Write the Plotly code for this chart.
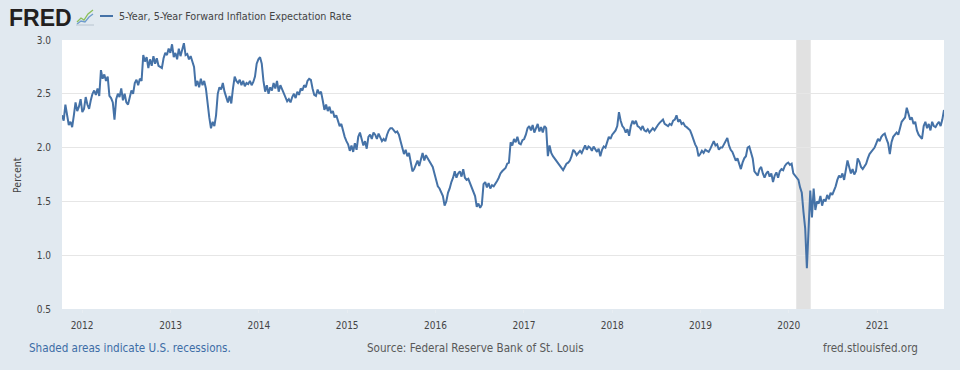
import plotly.graph_objects as go
import pandas as pd

# ---------------- data ----------------
series_name = "5-Year, 5-Year Forward Inflation Expectation Rate"
first_date = "2011-10-10"          # first weekly observation
obs_step = "7D"
rate_pct = [
    2.30, 2.25, 2.40, 2.28, 2.21, 2.24, 2.19, 2.30, 2.42, 2.34, 2.38, 2.45, 2.33,
    2.36, 2.47, 2.40, 2.36, 2.44, 2.50, 2.53, 2.49, 2.55, 2.48, 2.72, 2.64, 2.68,
    2.62, 2.66, 2.48, 2.46, 2.42, 2.26, 2.45, 2.50, 2.47, 2.55, 2.44, 2.50, 2.42,
    2.40, 2.46, 2.53, 2.50, 2.60, 2.63, 2.58, 2.64, 2.62, 2.86, 2.80, 2.84, 2.74,
    2.82, 2.76, 2.85, 2.78, 2.83, 2.76, 2.75, 2.74, 2.83, 2.88, 2.86, 2.92, 2.88,
    2.96, 2.84, 2.88, 2.82, 2.92, 2.85, 2.90, 2.97, 2.86, 2.87, 2.82, 2.85, 2.80,
    2.75, 2.57, 2.62, 2.56, 2.64, 2.58, 2.62, 2.55, 2.40, 2.28, 2.18, 2.24, 2.20,
    2.30, 2.50, 2.56, 2.54, 2.60, 2.52, 2.46, 2.42, 2.48, 2.41, 2.55, 2.66, 2.62,
    2.60, 2.63, 2.58, 2.62, 2.57, 2.60, 2.59, 2.62, 2.58, 2.61, 2.66, 2.78, 2.82,
    2.84, 2.78, 2.62, 2.52, 2.58, 2.50, 2.56, 2.53, 2.60, 2.55, 2.62, 2.52, 2.58,
    2.54, 2.50, 2.46, 2.43, 2.45, 2.42, 2.47, 2.50, 2.46, 2.52, 2.49, 2.55, 2.53,
    2.58, 2.56, 2.62, 2.64, 2.63, 2.55, 2.49, 2.48, 2.54, 2.50, 2.52, 2.44, 2.35,
    2.40, 2.34, 2.38, 2.32, 2.34, 2.28, 2.30, 2.25, 2.20, 2.22, 2.15, 2.10, 2.06,
    2.03, 1.97, 2.02, 1.96, 2.04, 1.98, 2.10, 2.14, 2.08, 2.02, 2.06, 1.99, 2.10,
    2.12, 2.08, 2.14, 2.12, 2.08, 2.13, 2.10, 2.06, 2.08, 2.06, 2.12, 2.16, 2.18,
    2.18, 2.16, 2.14, 2.15, 2.12, 2.06, 2.00, 1.94, 1.98, 1.92, 1.95, 1.88, 1.78,
    1.80, 1.85, 1.88, 1.83, 1.90, 1.95, 1.88, 1.93, 1.90, 1.87, 1.85, 1.82, 1.76,
    1.70, 1.64, 1.62, 1.58, 1.55, 1.46, 1.50, 1.58, 1.62, 1.68, 1.72, 1.78, 1.72,
    1.76, 1.78, 1.73, 1.80, 1.72, 1.70, 1.71, 1.67, 1.64, 1.60, 1.55, 1.45, 1.48,
    1.44, 1.47, 1.66, 1.68, 1.63, 1.67, 1.62, 1.65, 1.64, 1.66, 1.69, 1.72, 1.76,
    1.78, 1.80, 1.81, 1.85, 1.86, 2.05, 2.02, 2.08, 2.05, 2.10, 2.04, 2.03, 2.07,
    2.08, 2.12, 2.18, 2.20, 2.16, 2.21, 2.14, 2.18, 2.22, 2.15, 2.19, 2.14, 2.20,
    2.18, 1.92, 2.02, 1.95, 1.92, 1.90, 1.88, 1.86, 1.84, 1.82, 1.79, 1.82, 1.85,
    1.86, 1.88, 1.92, 1.98, 1.96, 1.93, 1.95, 1.97, 1.95, 1.99, 2.02, 1.98, 2.01,
    2.00, 1.97, 2.01, 1.99, 1.96, 1.99, 1.92, 1.98, 2.01, 2.00, 2.05, 2.10, 2.08,
    2.12, 2.14, 2.16, 2.20, 2.33, 2.25, 2.20, 2.18, 2.14, 2.17, 2.11, 2.20, 2.25,
    2.22, 2.25, 2.20, 2.19, 2.17, 2.20, 2.16, 2.15, 2.17, 2.14, 2.16, 2.18, 2.16,
    2.19, 2.21, 2.23, 2.25, 2.26, 2.22, 2.21, 2.20, 2.22, 2.21, 2.25, 2.26, 2.30,
    2.24, 2.26, 2.22, 2.23, 2.20, 2.19, 2.17, 2.16, 2.12, 2.07, 2.03, 2.00, 1.92,
    1.94, 1.97, 1.95, 1.98, 1.97, 1.96, 1.99, 2.03, 2.06, 2.02, 2.03, 1.98, 2.00,
    2.00, 2.03, 2.07, 2.09, 2.02, 1.98, 1.96, 1.91, 1.88, 1.90, 1.84, 1.80, 1.86,
    1.90, 1.92, 2.00, 2.01, 1.95, 1.90, 1.78, 1.76, 1.74, 1.80, 1.82, 1.76, 1.72,
    1.76, 1.78, 1.73, 1.76, 1.68, 1.74, 1.77, 1.72, 1.78, 1.80, 1.79, 1.83, 1.85,
    1.86, 1.84, 1.85, 1.76, 1.74, 1.72, 1.70, 1.63, 1.58, 1.40, 1.25, 0.88, 1.30,
    1.60, 1.35, 1.62, 1.42, 1.50, 1.48, 1.55, 1.46, 1.52, 1.50, 1.56, 1.52, 1.58,
    1.56, 1.60, 1.64, 1.70, 1.74, 1.72, 1.76, 1.70, 1.78, 1.88, 1.82, 1.76, 1.80,
    1.75, 1.78, 1.90, 1.87, 1.82, 1.80, 1.82, 1.85, 1.90, 1.94, 1.96, 1.98, 2.00,
    2.04, 2.08, 2.06, 2.10, 2.12, 2.13, 2.08, 2.04, 1.94, 2.05, 2.10, 2.12, 2.14,
    2.12, 2.18, 2.24, 2.26, 2.28, 2.37, 2.30, 2.26, 2.28, 2.22, 2.24, 2.16, 2.12,
    2.10, 2.08, 2.20, 2.24, 2.18, 2.22, 2.16, 2.24, 2.20, 2.19, 2.22, 2.24, 2.20,
    2.26, 2.35,
]
recession_start = "2020-02-01"
recession_end = "2020-04-01"
y_tick_values = [0.5, 1.0, 1.5, 2.0, 2.5, 3.0]
x_tick_years = ["2012", "2013", "2014", "2015", "2016", "2017", "2018", "2019", "2020", "2021"]

dates = pd.date_range(first_date, periods=len(rate_pct), freq=obs_step)

# ---------------- layout helpers ----------------
W, H = 960, 370
L, R, T, B = 62, 944, 40, 309
def xp(px):
    return (px - L) / (R - L)
def yp(py):
    return (B - py) / (B - T)

NARROW = "Liberation Sans Narrow, Arial Narrow, DejaVu Sans Condensed, sans-serif"
LINE_BLUE = "#4572a7"
BG = "#e1e9f0"

fig = go.Figure()
fig.add_trace(go.Scatter(
    x=dates, y=rate_pct, mode="lines", name=series_name,
    line=dict(color=LINE_BLUE, width=2), hoverinfo="x+y",
))

shapes = [
    dict(type="rect", xref="x", yref="paper", x0=recession_start, x1=recession_end,
         y0=0, y1=1, fillcolor="#e1e1e1", line=dict(width=0), layer="below"),
    # legend dash
    dict(type="line", xref="paper", yref="paper", x0=xp(100), x1=xp(113),
         y0=yp(16), y1=yp(16), line=dict(color=LINE_BLUE, width=2)),
    # small logo icon
    dict(type="path", xref="paper", yref="paper",
         path=f"M {xp(77)},{yp(22)} L {xp(81)},{yp(18)} L {xp(84)},{yp(20)} L {xp(88)},{yp(14)} L {xp(93)},{yp(10)}",
         line=dict(color="#8bbf5a", width=1.3)),
    dict(type="path", xref="paper", yref="paper",
         path=f"M {xp(77)},{yp(24)} L {xp(81)},{yp(21)} L {xp(85)},{yp(22)} L {xp(89)},{yp(17)} L {xp(93)},{yp(14)}",
         line=dict(color="#6f9ccc", width=1.3)),
    dict(type="line", xref="paper", yref="paper", x0=xp(76), x1=xp(94),
         y0=yp(25), y1=yp(25), line=dict(color="#b8c4cf", width=1)),
]

annotations = [
    dict(text="<b>FRED</b>", x=xp(7), y=yp(18), xref="paper", yref="paper",
         xanchor="left", yanchor="middle", showarrow=False,
         font=dict(family="Liberation Sans, Arial, sans-serif", size=23, color="#231f20")),
    dict(text=series_name, x=xp(117), y=yp(16.5), xref="paper", yref="paper",
         xanchor="left", yanchor="middle", showarrow=False,
         font=dict(family=NARROW, size=10.7, color="#444444")),
    dict(text="Percent", x=xp(17), y=yp(175), xref="paper", yref="paper",
         xanchor="center", yanchor="middle", textangle=-90, showarrow=False,
         font=dict(family=NARROW, size=10.5, color="#444444")),
    dict(text="Shaded areas indicate U.S. recessions.", x=xp(27), y=yp(348),
         xref="paper", yref="paper", xanchor="left", yanchor="middle", showarrow=False,
         font=dict(family=NARROW, size=11.6, color="#3d6da6")),
    dict(text="Source: Federal Reserve Bank of St. Louis", x=xp(475), y=yp(348),
         xref="paper", yref="paper", xanchor="center", yanchor="middle", showarrow=False,
         font=dict(family=NARROW, size=11.6, color="#595959")),
    dict(text="fred.stlouisfed.org", x=xp(920), y=yp(348),
         xref="paper", yref="paper", xanchor="right", yanchor="middle", showarrow=False,
         font=dict(family=NARROW, size=11.6, color="#595959")),
]

fig.update_layout(
    width=W, height=H,
    margin=dict(l=L, r=W - R, t=T, b=H - B, pad=0),
    paper_bgcolor=BG, plot_bgcolor="#ffffff",
    showlegend=False,
    shapes=shapes, annotations=annotations,
    xaxis=dict(
        type="date",
        range=[dates[0], dates[-1]],
        tickvals=[pd.Timestamp(y + "-01-01") for y in x_tick_years],
        ticktext=x_tick_years,
        showgrid=False, zeroline=False, showline=False,
        ticks="outside", ticklen=3, tickcolor="#e8edf2",
        tickfont=dict(family=NARROW, size=10, color="#444444"),
        ticklabelstandoff=4,
    ),
    yaxis=dict(
        range=[0.5, 3.0],
        tickvals=y_tick_values,
        tickformat=".1f",
        showgrid=True, gridcolor="#e6e6e6", gridwidth=1,
        zeroline=False, showline=False, ticks="",
        tickfont=dict(family=NARROW, size=10, color="#444444"),
        ticklabelstandoff=10,
    ),
)

fig.write_html(
    "out.html",
    config={"displayModeBar": False},
    post_script="document.body.style.margin='0';document.body.style.padding='0';"
                "document.body.style.overflow='hidden';document.body.style.background='#e1e9f0';",
)
